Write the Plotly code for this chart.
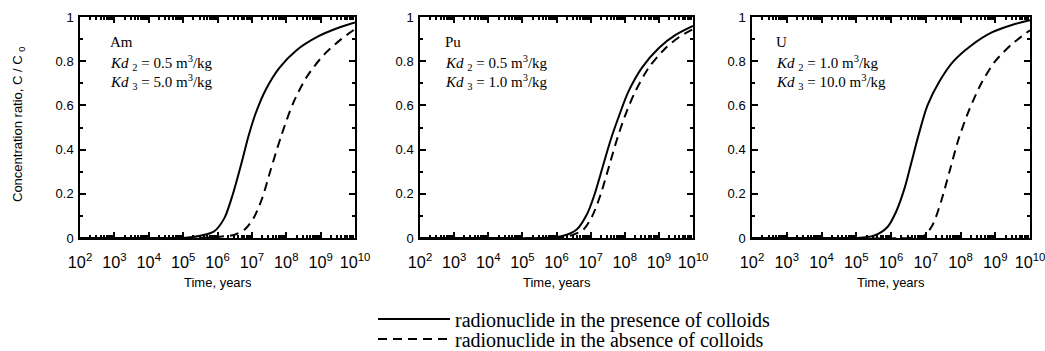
import plotly.graph_objects as go

# ---- data (log10 of time in years, concentration ratio C/C0) ----
am_with_exp = [2, 4, 5.0, 5.5, 5.9, 6.2, 6.45, 6.7, 6.9, 7.1, 7.4, 7.8, 8.3, 8.9, 9.5, 10]
am_with_val = [0, 0, 0.0, 0.01, 0.03, 0.09, 0.2, 0.34, 0.46, 0.56, 0.67, 0.77, 0.85, 0.91, 0.95, 0.975]
am_without_exp = [2, 4, 5.5, 6.0, 6.5, 6.8, 7.05, 7.3, 7.55, 7.85, 8.2, 8.6, 9.1, 9.6, 10]
am_without_val = [0, 0, 0, 0.005, 0.015, 0.04, 0.09, 0.18, 0.31, 0.46, 0.61, 0.73, 0.83, 0.9, 0.945]

pu_with_exp = [2, 4, 5.5, 6.2, 6.6, 6.9, 7.1, 7.35, 7.6, 7.85, 8.1, 8.5, 9.0, 9.5, 10]
pu_with_val = [0, 0, 0, 0.01, 0.04, 0.11, 0.19, 0.32, 0.45, 0.56, 0.66, 0.77, 0.86, 0.92, 0.96]
pu_without_exp = [2, 4, 5.8, 6.4, 6.8, 7.05, 7.3, 7.55, 7.8, 8.05, 8.3, 8.7, 9.2, 9.6, 10]
pu_without_val = [0, 0, 0, 0.01, 0.04, 0.1, 0.2, 0.33, 0.46, 0.57, 0.66, 0.77, 0.86, 0.91, 0.945]

u_with_exp = [2, 4, 5.0, 5.5, 5.9, 6.15, 6.4, 6.6, 6.8, 7.05, 7.4, 7.8, 8.3, 8.9, 9.5, 10]
u_with_val = [0, 0, 0, 0.01, 0.05, 0.12, 0.23, 0.35, 0.47, 0.6, 0.71, 0.8, 0.87, 0.93, 0.965, 0.985]
u_without_exp = [2, 4, 6.5, 6.95, 7.2, 7.45, 7.7, 7.95, 8.25, 8.6, 9.0, 9.5, 10]
u_without_val = [0, 0, 0, 0.01, 0.06, 0.17, 0.31, 0.45, 0.58, 0.7, 0.8, 0.88, 0.94]

panel_names = ["Am", "Pu", "U"]
kd2_labels = ["0.5", "0.5", "1.0"]
kd3_labels = ["5.0", "1.0", "10.0"]
legend_names = ["radionuclide in the presence of colloids",
                "radionuclide in the absence of colloids"]

series = [
    (am_with_exp, am_with_val, am_without_exp, am_without_val),
    (pu_with_exp, pu_with_val, pu_without_exp, pu_without_val),
    (u_with_exp, u_with_val, u_without_exp, u_without_val),
]

W, H = 1045, 351
x_domains = [[80 / W, 355 / W], [420 / W, 693 / W], [752 / W, 1030 / W]]
y_domain = [1 - 238 / H, 1 - 17 / H]

fig = go.Figure()
for i, (we, wv, oe, ov) in enumerate(series):
    xa = "x" if i == 0 else f"x{i+1}"
    ya = "y" if i == 0 else f"y{i+1}"
    fig.add_trace(go.Scatter(
        x=[10 ** e for e in we], y=wv, mode="lines",
        line=dict(color="black", width=2, shape="spline", smoothing=0.8),
        name=legend_names[0], showlegend=(i == 0), legend="legend", xaxis=xa, yaxis=ya))
    fig.add_trace(go.Scatter(
        x=[10 ** e for e in oe], y=ov, mode="lines",
        line=dict(color="black", width=2, dash="9px,6px", shape="spline", smoothing=0.8),
        name=legend_names[1], showlegend=(i == 0), legend="legend2", xaxis=xa, yaxis=ya))

tick_font = dict(family="Liberation Sans, Arial, sans-serif", size=13, color="black")
leg_font = dict(family="Liberation Serif, Times New Roman, serif", size=20, color="black")
layout = dict(
    width=W, height=H,
    margin=dict(l=0, r=0, t=0, b=0, autoexpand=False),
    paper_bgcolor="white", plot_bgcolor="white",
    showlegend=True,
    legend=dict(x=373 / W, y=1 - 319 / H, xanchor="left", yanchor="middle",
                font=leg_font, itemwidth=72, bgcolor="rgba(0,0,0,0)"),
    legend2=dict(x=373 / W, y=1 - 339 / H, xanchor="left", yanchor="middle",
                 font=leg_font, itemwidth=72, bgcolor="rgba(0,0,0,0)"),
)
annotations = []
for i in range(3):
    sfx = "" if i == 0 else str(i + 1)
    layout[f"xaxis{sfx}"] = dict(
        domain=x_domains[i], type="log", range=[2, 10], dtick=1,
        exponentformat="power", showgrid=False, zeroline=False,
        showline=True, linecolor="black", linewidth=1.5, mirror="ticks",
        ticks="inside", ticklen=6, tickwidth=1.5, tickcolor="black",
        minor=dict(ticks="inside", ticklen=3, tickcolor="black", dtick="D1", showgrid=False),
        tickfont=tick_font, ticklabelstandoff=9, ticklabeloverflow="allow",
        anchor=f"y{sfx}",
    )
    layout[f"yaxis{sfx}"] = dict(
        domain=y_domain, range=[0, 1], dtick=0.2, showgrid=False, zeroline=False,
        showline=True, linecolor="black", linewidth=1.5, mirror="ticks",
        ticks="inside", ticklen=6, tickwidth=1.5, tickcolor="black",
        minor=dict(ticks="inside", ticklen=3, tickcolor="black", dtick=0.1, showgrid=False),
        tickfont=tick_font, ticklabelstandoff=2, ticklabeloverflow="allow",
        anchor=f"x{sfx}",
    )
    xr = f"x{sfx} domain"
    yr = f"y{sfx} domain"
    serif = dict(family="Liberation Serif, Times New Roman, serif", size=15, color="black")
    xoff = [0.10, 0.084, 0.079][i]
    annotations += [
        dict(xref=xr, yref=yr, x=xoff, y=0.885, text=panel_names[i], showarrow=False,
             xanchor="left", yanchor="middle", font=serif),
        dict(xref=xr, yref=yr, x=xoff, y=0.79,
             text=f"<i>Kd</i> <sub>2</sub> = {kd2_labels[i]} m<sup>3</sup>/kg",
             showarrow=False, xanchor="left", yanchor="middle", font=serif),
        dict(xref=xr, yref=yr, x=xoff, y=0.705,
             text=f"<i>Kd</i> <sub>3</sub> = {kd3_labels[i]} m<sup>3</sup>/kg",
             showarrow=False, xanchor="left", yanchor="middle", font=serif),
        dict(xref=xr, yref="paper", x=0.5, y=1 - 282 / H, text="Time, years", showarrow=False,
             xanchor="center", yanchor="middle", font=tick_font),
    ]
annotations.append(dict(xref="paper", yref="paper", x=18 / W, y=1 - 125 / H,
                        text="Concentration ratio, C / C <sub>0</sub>", textangle=-90,
                        showarrow=False, xanchor="center", yanchor="middle",
                        font=dict(family="Liberation Sans, Arial, sans-serif", size=13, color="black")))
layout["annotations"] = annotations
fig.update_layout(**layout)
fig.write_html("out.html")
